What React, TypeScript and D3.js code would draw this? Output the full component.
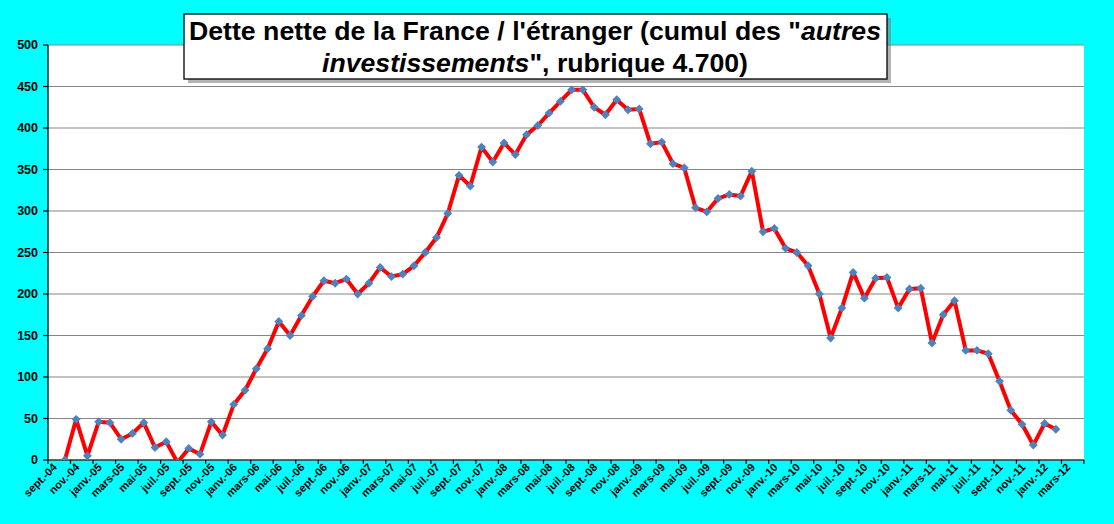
import React from 'react';
import * as d3 from 'd3';

// French month abbreviations as used on the axis
const monthNames = ['janv.', 'févr.', 'mars', 'avr.', 'mai', 'juin', 'juil.', 'août', 'sept.', 'oct.', 'nov.', 'déc.'];

// 92 monthly categories, sept.-04 .. avr.-12
const categories: string[] = [];
for (let k = 0; k < 92; k++) {
  const m = (8 + k) % 12;
  const y = 4 + Math.floor((8 + k) / 12);
  categories.push(`${monthNames[m]}-${String(y).padStart(2, '0')}`);
}

// values from oct.-04 to févr.-12
const firstIndex = 1;
const values = [
  0, 49, 5,
  46, 45, 25, 32, 45, 15, 22, -3, 14, 7, 46, 30,
  67, 84, 110, 134, 167, 150, 174, 197, 216, 213, 218, 200,
  213, 232, 221, 224, 234, 250, 268, 297, 343, 330, 377, 359,
  382, 368, 392, 403, 418, 432, 446, 446, 425, 416, 434, 422,
  423, 381, 383, 357, 352, 304, 299, 315, 320, 318, 348, 275,
  279, 255, 250, 234, 200, 147, 183, 226, 195, 219, 220, 183,
  206, 207, 141, 175, 192, 132, 132, 128, 95, 60, 43, 18,
  44, 37,
];

const yTicks = [0, 50, 100, 150, 200, 250, 300, 350, 400, 450, 500];

const W = 1114, H = 524;
const plot = { left: 48, right: 1084, top: 45, bottom: 460 };

export default function App() {
  const x = d3.scaleBand<string>()
    .domain(categories)
    .range([plot.left, plot.right])
    .paddingInner(0)
    .paddingOuter(0);
  const y = d3.scaleLinear().domain([0, 500]).range([plot.bottom, plot.top]);

  const points = values.map((v, i) => ({ cat: categories[firstIndex + i], v }));
  const cx = (c: string) => (x(c) as number) + x.bandwidth() / 2;

  const line = d3.line<{ cat: string; v: number }>()
    .x(d => cx(d.cat))
    .y(d => y(d.v));

  const diamond = d3.symbol().type(d3.symbolDiamond2).size(50)();

  // tick marks every 2 categories
  const tickXs = d3.range(0, categories.length + 1, 2).map(k => plot.left + k * x.bandwidth());
  const labelCats = categories.filter((_, i) => i % 2 === 0);

  const font = 'Arial, "Liberation Sans", sans-serif';

  return (
    <svg width={W} height={H} style={{ position: 'absolute', left: 0, top: 0 }} fontFamily={font}>
      <defs>
        <clipPath id="plotClip">
          <rect x={plot.left} y={plot.top - 6} width={plot.right - plot.left} height={plot.bottom - plot.top + 6} />
        </clipPath>
      </defs>
      <rect width={W} height={H} fill="#00FFFF" />
      <rect x={plot.left} y={plot.top} width={plot.right - plot.left} height={plot.bottom - plot.top} fill="#fff" />

      {/* gridlines */}
      {yTicks.filter(t => t > 0).map(t => (
        <line key={t} x1={plot.left} x2={plot.right} y1={y(t)} y2={y(t)} stroke="#868686" strokeWidth={1.2} />
      ))}

      {/* y axis */}
      <line x1={plot.left} x2={plot.left} y1={plot.top} y2={plot.bottom} stroke="#000" strokeWidth={1.3} />
      {yTicks.map(t => (
        <g key={t}>
          <line x1={plot.left - 5} x2={plot.left} y1={y(t)} y2={y(t)} stroke="#000" strokeWidth={1.2} />
          <text x={38} y={y(t)} dy="0.35em" textAnchor="end" fontSize={12.5} fontWeight="bold">{t}</text>
        </g>
      ))}

      {/* x axis */}
      <line x1={plot.left} x2={plot.right} y1={plot.bottom} y2={plot.bottom} stroke="#333" strokeWidth={1.5} />
      {tickXs.map((tx, i) => (
        <line key={i} x1={tx} x2={tx} y1={plot.bottom} y2={plot.bottom + 4} stroke="#000" strokeWidth={1.2} />
      ))}
      {labelCats.map(c => (
        <text key={c} transform={`translate(${cx(c) + 4},${plot.bottom + 8}) rotate(-45)`}
          textAnchor="end" fontSize={11} fontWeight="bold">{c}</text>
      ))}

      {/* series */}
      <g clipPath="url(#plotClip)">
        <path d={line(points) || ''} fill="none" stroke="#FF0000" strokeWidth={4} strokeLinejoin="round" />
        {points.map(p => (
          <path key={p.cat} d={diamond || ''} transform={`translate(${cx(p.cat)},${y(p.v)})`} fill="#4F81BD" />
        ))}
      </g>

      {/* title box */}
      <rect x={188} y={18} width={703} height={65} fill="#777" opacity={0.55} />
      <rect x={184} y={14} width={703} height={65} fill="#fff" stroke="#000" strokeWidth={1.3} />
      <text x={535} y={40} textAnchor="middle" fontSize={25.5} fontWeight="bold"
        textLength={692} lengthAdjust="spacingAndGlyphs">
        Dette nette de la France / l'étranger (cumul des "<tspan fontStyle="italic">autres</tspan>
      </text>
      <text x={535} y={71.5} textAnchor="middle" fontSize={25.5} fontWeight="bold"
        textLength={426} lengthAdjust="spacingAndGlyphs">
        <tspan fontStyle="italic">investissements</tspan>", rubrique 4.700)
      </text>
    </svg>
  );
}
